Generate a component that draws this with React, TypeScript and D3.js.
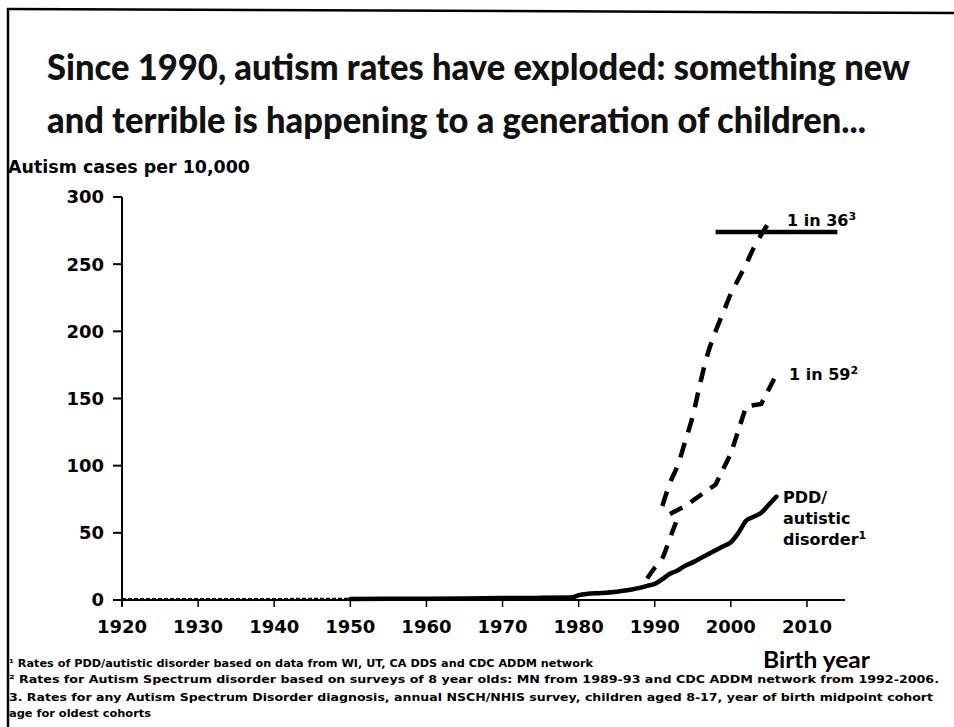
import React from "react";
import * as d3 from "d3";

// ---- data ----
const xTicks = [1920, 1930, 1940, 1950, 1960, 1970, 1980, 1990, 2000, 2010];
const yTicks = [0, 50, 100, 150, 200, 250, 300];

// PDD / autistic disorder (solid)
const pddYears = [1920, 1925, 1930, 1935, 1940, 1945, 1950, 1955, 1960, 1965, 1970, 1975, 1979, 1980, 1981, 1983, 1985, 1987, 1988, 1989, 1990, 1991, 1992, 1993, 1994, 1995, 1996, 1997, 1998, 1999, 2000, 2001, 2002, 2003, 2004, 2005, 2006];
const pddValues = [0.5, 0.5, 0.5, 0.6, 0.6, 0.7, 0.8, 0.9, 1.0, 1.2, 1.4, 1.6, 1.8, 3.5, 4.5, 5.2, 6.2, 7.8, 9, 10.5, 12, 15.5, 19.5, 22, 25.5, 28, 31, 34, 37, 40, 43, 50, 59, 62, 65, 71, 77];

// ASD, MN surveys 1989-93 (dashed)
const mnYears = [1989, 1990, 1991, 1992, 1993];
const mnValues = [16, 24, 31, 46, 61];

// ASD, CDC ADDM network 1992-2006 (dashed) -> "1 in 59"
const addmYears = [1992, 1994, 1996, 1998, 2000, 2002, 2004, 2006];
const addmValues = [64, 70, 78, 86, 109, 144, 146, 168];

// Any ASD diagnosis, NSCH/NHIS (dashed) -> "1 in 36"
const nschYears = [1991, 1992, 1993, 1994, 1995, 1996, 1997, 1998, 1999, 2000, 2001, 2002, 2003, 2004, 2005];
const nschValues = [70, 87, 100, 118, 137, 162, 184, 200, 214, 228, 239, 250, 262, 272, 281];

// "1 in 36" level (solid horizontal)
const levelYears = [1998, 2014];
const levelValues = [274, 274];

const footnotes = [
  "\u00B9 Rates of PDD/autistic disorder based on data from WI, UT, CA DDS and CDC ADDM network",
  "\u00B2 Rates for Autism Spectrum disorder based on surveys of 8 year olds: MN from 1989-93 and CDC ADDM network from 1992-2006.",
  "3. Rates for any Autism Spectrum Disorder diagnosis, annual NSCH/NHIS survey, children aged 8-17, year of birth midpoint cohort",
  "age for oldest cohorts",
];
const footnoteWidths = [584, 930, 924, 142];

const W = 954;
const H = 727;

export default function App() {
  const x = d3.scaleLinear().domain([1920, 2015]).range([122, 845]);
  const y = d3.scaleLinear().domain([0, 300]).range([600, 197]);

  const zip = (ys: number[], vs: number[]) => ys.map((yr, i) => [yr, vs[i]] as [number, number]);
  const line = d3
    .line<[number, number]>()
    .x((d) => x(d[0]))
    .y((d) => y(d[1]))
    .curve(d3.curveMonotoneX);
  const straight = d3
    .line<[number, number]>()
    .x((d) => x(d[0]))
    .y((d) => y(d[1]));

  const pdd = zip(pddYears, pddValues);
  const pddEarly = pdd.filter((d) => d[0] <= 1950);
  const pddLate = pdd.filter((d) => d[0] >= 1950);

  const labelFont = "'DejaVu Sans', Verdana, sans-serif";
  const titleFont = "Lato, 'Open Sans', sans-serif";

  return (
    <svg
      width={W}
      height={H}
      viewBox={`0 0 ${W} ${H}`}
      style={{ position: "absolute", left: 0, top: 0, display: "block", background: "#fff" }}
    >
      <rect x={0} y={0} width={W} height={H} fill="#fff" />
      {/* frame */}
      <line x1={7} y1={9} x2={W} y2={13} stroke="#000" strokeWidth={2.5} />
      <line x1={8} y1={8} x2={8} y2={H} stroke="#000" strokeWidth={2.5} />

      {/* title */}
      <text x={47} y={80} fontFamily={titleFont} fontWeight={900} fontSize={36} fill="#111" textLength={863} lengthAdjust="spacingAndGlyphs">
        Since 1990, autism rates have exploded: something new
      </text>
      <text x={47} y={133} fontFamily={titleFont} fontWeight={900} fontSize={36} fill="#111" textLength={819} lengthAdjust="spacingAndGlyphs">
        and terrible is happening to a generation of children...
      </text>

      {/* y label */}
      <text x={8} y={173} fontFamily={labelFont} fontWeight={700} fontSize={18} fill="#000" textLength={242} lengthAdjust="spacingAndGlyphs">
        Autism cases per 10,000
      </text>

      {/* axes */}
      <line x1={x(1920)} y1={y(300)} x2={x(1920)} y2={y(0) + 6} stroke="#000" strokeWidth={2} />
      {yTicks.map((t) => (
        <g key={"y" + t}>
          <line x1={x(1920) - 9} x2={x(1920)} y1={y(t)} y2={y(t)} stroke="#000" strokeWidth={2} />
          <text x={x(1920) - 18} y={y(t)} dy="0.36em" textAnchor="end" fontFamily={labelFont} fontWeight={700} fontSize={18} fill="#000">
            {t}
          </text>
        </g>
      ))}
      <line x1={x(1920)} y1={y(0)} x2={x(2015)} y2={y(0)} stroke="#000" strokeWidth={2} />
      {xTicks.map((t) => (
        <g key={"x" + t}>
          <line x1={x(t)} x2={x(t)} y1={y(0)} y2={y(0) + 7} stroke="#000" strokeWidth={1.5} />
          <text x={x(t)} y={633} textAnchor="middle" fontFamily={labelFont} fontWeight={700} fontSize={18} fill="#000">
            {t}
          </text>
        </g>
      ))}

      {/* series */}
      <path d={straight(pddEarly) || ""} fill="none" stroke="#000" strokeWidth={2.5} strokeDasharray="4 2" />
      <path d={line(pddLate) || ""} fill="none" stroke="#000" strokeWidth={4.5} strokeLinejoin="round" strokeLinecap="round" />
      <path d={line(zip(mnYears, mnValues)) || ""} fill="none" stroke="#000" strokeWidth={4.5} strokeDasharray="14 11" />
      <path d={straight(zip(addmYears, addmValues)) || ""} fill="none" stroke="#000" strokeWidth={4.5} strokeDasharray="14 10" />
      <path d={line(zip(nschYears, nschValues)) || ""} fill="none" stroke="#000" strokeWidth={4.5} strokeDasharray="15 11" />
      <path d={straight(zip(levelYears, levelValues)) || ""} fill="none" stroke="#000" strokeWidth={4.5} />

      {/* series labels */}
      <text x={787} y={226} fontFamily={labelFont} fontWeight={700} fontSize={16} fill="#000">
        1 in 36<tspan fontSize={11} dy={-6}>3</tspan>
      </text>
      <text x={789} y={380} fontFamily={labelFont} fontWeight={700} fontSize={16} fill="#000">
        1 in 59<tspan fontSize={11} dy={-6}>2</tspan>
      </text>
      <text fontFamily={labelFont} fontWeight={700} fontSize={16} fill="#000">
        <tspan x={783} y={503}>PDD/</tspan>
        <tspan x={783} y={524}>autistic</tspan>
        <tspan x={783} y={545}>disorder<tspan fontSize={11} dy={-6}>1</tspan></tspan>
      </text>

      {/* x label */}
      <text x={763} y={668} fontFamily={titleFont} fontWeight={700} fontSize={22} fill="#000" textLength={107} lengthAdjust="spacingAndGlyphs">
        Birth year
      </text>

      {/* footnotes */}
      {footnotes.map((f, i) => (
        <text key={i} x={9} y={[667, 683, 701, 717][i]} fontFamily={labelFont} fontWeight={700} fontSize={11} fill="#000" textLength={footnoteWidths[i]} lengthAdjust="spacingAndGlyphs">
          {f}
        </text>
      ))}
    </svg>
  );
}
